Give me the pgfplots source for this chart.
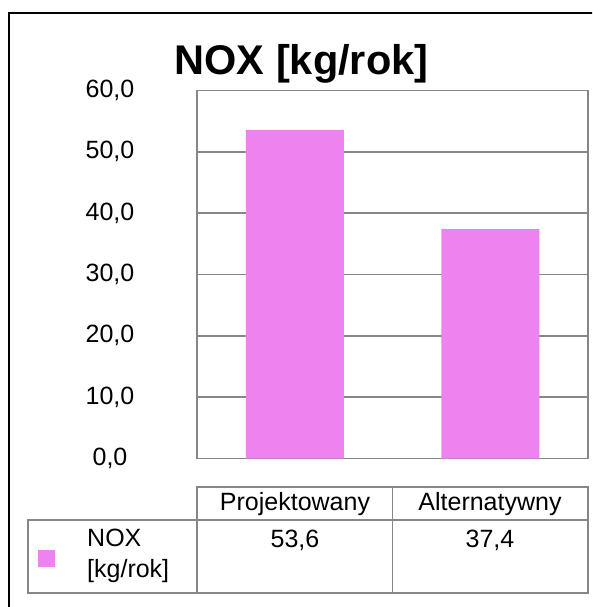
\documentclass[border=0pt]{standalone}
\usepackage{fontspec}
\setmainfont{Liberation Sans}
\usepackage{pgfplots}
\pgfplotsset{compat=1.18}
\definecolor{barviolet}{RGB}{238,130,238}
\definecolor{linegray}{RGB}{135,135,135}
\begin{document}
\begin{tikzpicture}
\useasboundingbox (0,0) rectangle (592pt,-607pt);
\begin{scope}
\clip (0,0) rectangle (592pt,-607pt);
\draw[black, line width=2pt] (9pt,-700pt) -- (9pt,-13pt) -- (700pt,-13pt);
\end{scope}
\node[anchor=base, font=\fontsize{41.5}{48}\selectfont\bfseries] at (301.5pt,-75pt) {NOX [kg/rok]};
\begin{axis}[
 at={(197pt,-458.5pt)}, anchor=south west,
 width=391pt, height=368pt, scale only axis,
 ybar, bar width=98pt,
 xmin=-0.5, xmax=1.5, ymin=0, ymax=60,
 ytick={0,10,20,30,40,50,60}, xtick=\empty,
 ymajorgrids, grid style={linegray, line width=1.4pt},
 axis line style={linegray, line width=1.4pt},
 major tick length=0pt,
 yticklabel style={anchor=center, xshift=-87pt, font=\fontsize{25}{30}\selectfont,
   /pgf/number format/.cd, fixed, fixed zerofill, precision=1, use comma, assume math mode=true},
]
\addplot[fill=barviolet, draw=none] coordinates {(0,53.6) (1,37.4)};
\end{axis}
\begin{scope}[linegray, line width=1.4pt]
\draw (197pt,-487pt) rectangle (588pt,-520pt);
\draw (28pt,-520pt) rectangle (588pt,-593pt);
\draw (392.5pt,-487pt) -- (392.5pt,-593pt);
\draw (197pt,-520pt) -- (197pt,-593pt);
\end{scope}
\fill[barviolet] (38pt,-550pt) rectangle (55pt,-567pt);
\begin{scope}[every node/.style={font=\fontsize{25}{30}\selectfont, inner sep=0pt}]
\node[anchor=base] at (295pt,-510pt) {Projektowany};
\node[anchor=base] at (490pt,-510pt) {Alternatywny};
\node[anchor=base] at (295pt,-547pt) {53,6};
\node[anchor=base] at (490pt,-547pt) {37,4};
\node[anchor=base west] at (87pt,-546pt) {NOX};
\node[anchor=base west] at (87pt,-577pt) {[kg/rok]};
\end{scope}
\end{tikzpicture}
\end{document}
